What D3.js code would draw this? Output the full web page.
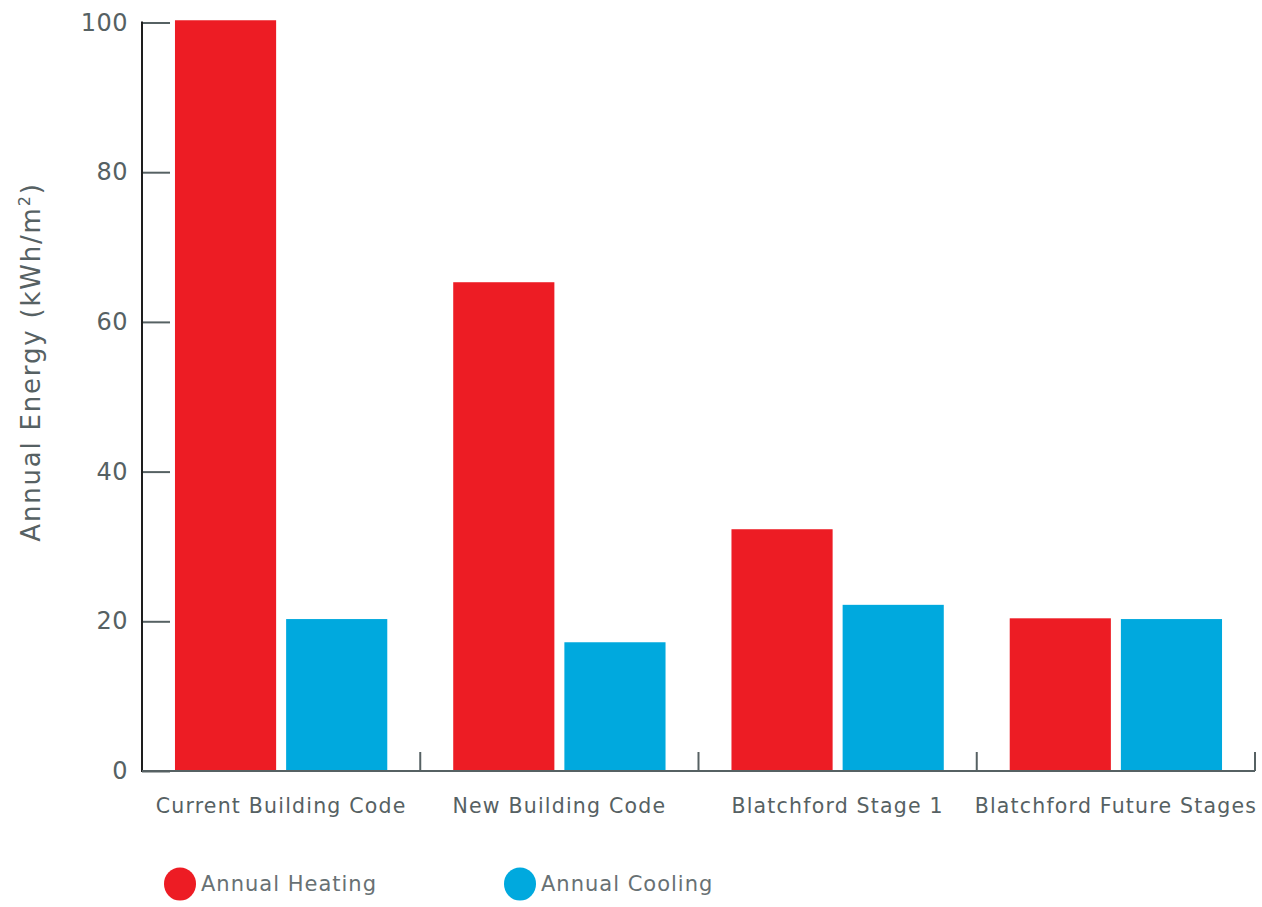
<!DOCTYPE html>
<meta charset="utf-8">
<script src="https://d3js.org/d3.v7.min.js"></script>
<style>
  body { margin: 0; background: #fff; }
  text { font-family: "Century Gothic", "DejaVu Sans", sans-serif; }
</style>
<div id="chart"></div>
<script>

// data
var categories = ["Current Building Code", "New Building Code", "Blatchford Stage 1", "Blatchford Future Stages"];
var series = ["Annual Heating", "Annual Cooling"];
var heating = [100.3, 65.3, 32.3, 20.4];
var cooling = [20.3, 17.2, 22.2, 20.3];
var yTicks = [0, 20, 40, 60, 80, 100];

var colors = { "Annual Heating": "#ed1c24", "Annual Cooling": "#00a9de" };
var grey = "#566163";

var width = 1262, height = 907;
var margin = { left: 142, right: 7, top: 22.5, bottom: 136 };

var svg = d3.select("#chart").append("svg")
    .attr("width", width)
    .attr("height", height);

var x0 = d3.scaleBand()
    .domain(categories)
    .range([margin.left, width - margin.right])
    .paddingInner(0.237)
    .paddingOuter(0.1185);

var x1 = d3.scaleBand()
    .domain(series)
    .range([0, x0.bandwidth()])
    .paddingInner(0.09);

var y = d3.scaleLinear()
    .domain([0, 100])
    .range([height - margin.bottom, margin.top]);

var rows = categories.map(function(c, i) {
  return { cat: c, values: [
    { key: "Annual Heating", value: heating[i] },
    { key: "Annual Cooling", value: cooling[i] }
  ]};
});

// bars
svg.append("g")
  .selectAll("g")
  .data(rows)
  .join("g")
    .attr("transform", function(d) { return "translate(" + x0(d.cat) + ",0)"; })
  .selectAll("rect")
  .data(function(d) { return d.values; })
  .join("rect")
    .attr("x", function(d) { return x1(d.key); })
    .attr("y", function(d) { return y(d.value); })
    .attr("width", x1.bandwidth())
    .attr("height", function(d) { return y(0) - y(d.value); })
    .attr("fill", function(d) { return colors[d.key]; });

// y axis: ticks point inward
var yAxis = svg.append("g")
    .attr("transform", "translate(" + margin.left + ",0)")
    .call(d3.axisRight(y).tickValues(yTicks).tickSize(28).tickFormat(d3.format("d")));
yAxis.select(".domain").remove();
yAxis.selectAll(".tick line").attr("stroke", grey).attr("stroke-width", 2);
yAxis.selectAll(".tick text")
    .attr("x", -14)
    .attr("text-anchor", "end")
    .attr("fill", grey)
    .style("font-size", "24px")
    .style("letter-spacing", "0.5px");
svg.append("line")
    .attr("x1", margin.left).attr("x2", margin.left)
    .attr("y1", y(100) - 1).attr("y2", y(0) + 1)
    .attr("stroke", "#1e1e1e")
    .attr("stroke-width", 2);

// x axis with boundary ticks pointing up
var xAxisY = y(0);
svg.append("line")
    .attr("x1", margin.left).attr("x2", width - margin.right)
    .attr("y1", xAxisY).attr("y2", xAxisY)
    .attr("stroke", grey)
    .attr("stroke-width", 2);

var bounds = categories.map(function(c) { return x0(c) + x0.bandwidth() + x0.step() * 0.237 / 2; });
svg.append("g")
  .selectAll("line")
  .data(bounds)
  .join("line")
    .attr("x1", function(d) { return d; })
    .attr("x2", function(d) { return d; })
    .attr("y1", xAxisY)
    .attr("y2", xAxisY - 19)
    .attr("stroke", grey)
    .attr("stroke-width", 2);

svg.append("g")
  .selectAll("text")
  .data(categories)
  .join("text")
    .attr("x", function(d) { return x0(d) + x0.bandwidth() / 2; })
    .attr("y", 813)
    .attr("text-anchor", "middle")
    .attr("fill", grey)
    .style("font-size", "20.5px")
    .style("letter-spacing", "1.2px")
    .text(function(d) { return d; });

// y title
svg.append("text")
    .attr("transform", "translate(40,362) rotate(-90)")
    .attr("text-anchor", "middle")
    .attr("fill", grey)
    .style("font-size", "26px")
    .style("letter-spacing", "1.8px")
    .html("Annual Energy (kWh/m<tspan dy='-10' style='font-size:16px'>2</tspan><tspan dy='10'>)</tspan>");

// legend
var legendX = [180, 520];
var legend = svg.append("g")
  .selectAll("g")
  .data(series)
  .join("g")
    .attr("transform", function(d, i) { return "translate(" + legendX[i] + ",884)"; });
legend.append("ellipse")
    .attr("rx", 16)
    .attr("ry", 16.5)
    .attr("fill", function(d) { return colors[d]; });
legend.append("text")
    .attr("x", 21)
    .attr("y", 7)
    .attr("fill", "#687174")
    .style("font-size", "21px")
    .style("letter-spacing", "1px")
    .text(function(d) { return d; });

</script>
